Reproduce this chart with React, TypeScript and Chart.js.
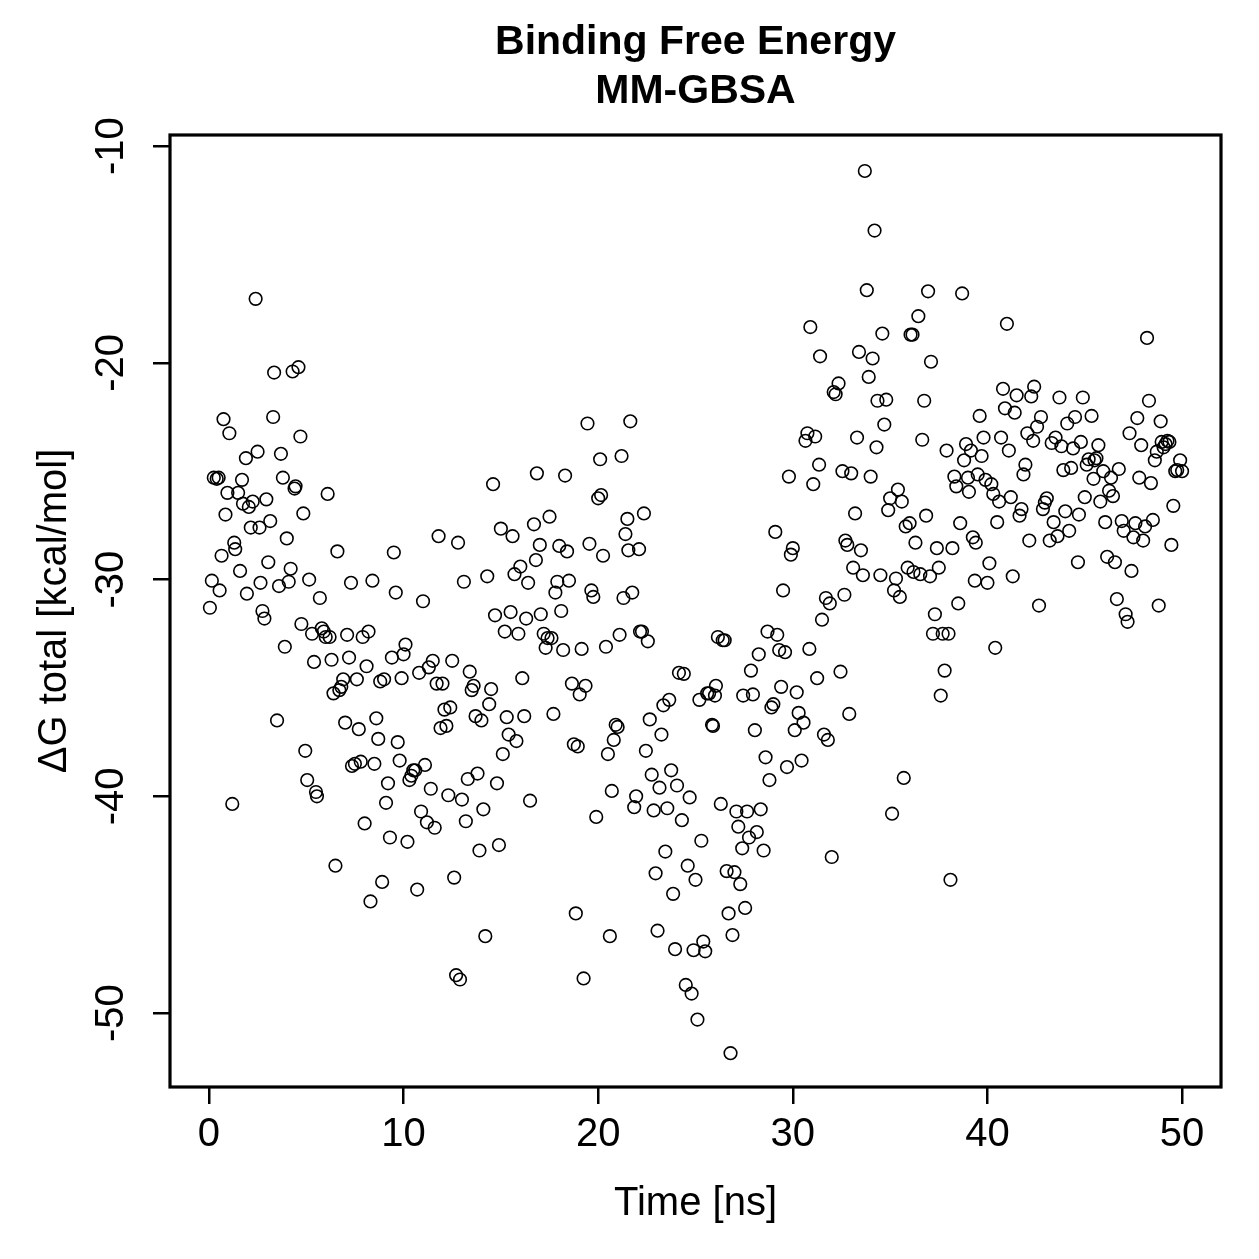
import React, { useEffect, useRef } from "react";
import { Chart, registerables } from "chart.js";

Chart.register(...registerables);

// Time [ns] of each frame
const timeNs = [
  0.05, 0.15, 0.25, 0.4, 0.5, 0.55, 0.65, 0.75, 0.85, 0.95, 1.05, 1.2, 1.3, 1.35, 1.5, 1.6, 1.7, 1.75, 1.9, 1.95,
  2.05, 2.15, 2.25, 2.4, 2.5, 2.6, 2.65, 2.75, 2.85, 2.95, 3.05, 3.15, 3.3, 3.35, 3.5, 3.6, 3.7, 3.8, 3.9, 4.0,
  4.1, 4.2, 4.3, 4.4, 4.45, 4.6, 4.7, 4.75, 4.85, 4.95, 5.05, 5.15, 5.3, 5.4, 5.5, 5.55, 5.7, 5.8, 5.9, 6.0,
  6.1, 6.2, 6.3, 6.4, 6.5, 6.6, 6.7, 6.8, 6.9, 7.0, 7.1, 7.2, 7.3, 7.35, 7.5, 7.6, 7.7, 7.8, 7.9, 8.0,
  8.1, 8.2, 8.3, 8.4, 8.5, 8.6, 8.7, 8.8, 8.9, 9.0, 9.1, 9.2, 9.3, 9.4, 9.5, 9.6, 9.7, 9.8, 9.9, 10.0,
  10.1, 10.2, 10.3, 10.4, 10.5, 10.6, 10.7, 10.8, 10.9, 11.0, 11.1, 11.2, 11.3, 11.4, 11.5, 11.6, 11.7, 11.8, 11.9, 12.0,
  12.1, 12.2, 12.3, 12.4, 12.5, 12.6, 12.7, 12.8, 12.9, 13.0, 13.1, 13.2, 13.3, 13.4, 13.5, 13.6, 13.7, 13.8, 13.9, 14.0,
  14.1, 14.2, 14.3, 14.4, 14.5, 14.6, 14.7, 14.8, 14.9, 15.0, 15.1, 15.2, 15.3, 15.4, 15.5, 15.6, 15.7, 15.8, 15.9, 16.0,
  16.1, 16.2, 16.3, 16.4, 16.5, 16.7, 16.8, 16.85, 17.0, 17.05, 17.2, 17.3, 17.4, 17.5, 17.6, 17.7, 17.8, 17.9, 18.0, 18.1,
  18.2, 18.3, 18.4, 18.5, 18.65, 18.75, 18.85, 18.95, 19.05, 19.15, 19.25, 19.35, 19.45, 19.55, 19.65, 19.75, 19.9, 20.0, 20.1, 20.15,
  20.25, 20.4, 20.5, 20.6, 20.7, 20.8, 20.9, 21.0, 21.1, 21.2, 21.3, 21.4, 21.5, 21.55, 21.65, 21.75, 21.85, 21.95, 22.1, 22.15,
  22.25, 22.35, 22.45, 22.55, 22.65, 22.75, 22.85, 22.95, 23.05, 23.15, 23.25, 23.35, 23.45, 23.55, 23.65, 23.75, 23.85, 23.95, 24.05, 24.15,
  24.3, 24.4, 24.5, 24.6, 24.7, 24.8, 24.9, 25.0, 25.1, 25.2, 25.3, 25.4, 25.5, 25.6, 25.7, 25.85, 25.9, 26.0, 26.05, 26.15,
  26.3, 26.4, 26.5, 26.6, 26.7, 26.8, 26.9, 27.0, 27.1, 27.2, 27.3, 27.4, 27.45, 27.55, 27.65, 27.75, 27.85, 27.95, 28.05, 28.15,
  28.25, 28.35, 28.5, 28.6, 28.7, 28.8, 28.9, 29.0, 29.1, 29.2, 29.3, 29.4, 29.5, 29.6, 29.7, 29.8, 29.9, 30.0, 30.1, 30.2,
  30.3, 30.45, 30.55, 30.65, 30.75, 30.85, 30.9, 31.05, 31.15, 31.25, 31.35, 31.4, 31.5, 31.6, 31.7, 31.8, 31.9, 32.0, 32.1, 32.2,
  32.35, 32.45, 32.55, 32.65, 32.7, 32.8, 32.9, 33.0, 33.1, 33.2, 33.3, 33.4, 33.5, 33.6, 33.7, 33.8, 33.9, 34.0, 34.1, 34.2,
  34.3, 34.35, 34.5, 34.6, 34.7, 34.8, 34.9, 35.0, 35.1, 35.2, 35.3, 35.4, 35.5, 35.6, 35.7, 35.8, 35.9, 36.0, 36.05, 36.15,
  36.2, 36.3, 36.45, 36.55, 36.65, 36.75, 36.85, 36.95, 37.05, 37.1, 37.2, 37.3, 37.4, 37.5, 37.6, 37.7, 37.8, 37.9, 38.0, 38.1,
  38.2, 38.3, 38.4, 38.5, 38.6, 38.7, 38.8, 38.9, 39.0, 39.05, 39.15, 39.25, 39.35, 39.4, 39.5, 39.6, 39.7, 39.8, 39.9, 40.0,
  40.1, 40.2, 40.3, 40.4, 40.5, 40.6, 40.7, 40.8, 40.9, 41.0, 41.1, 41.2, 41.3, 41.4, 41.5, 41.65, 41.75, 41.85, 41.95, 42.05,
  42.15, 42.25, 42.35, 42.4, 42.55, 42.65, 42.75, 42.85, 42.95, 43.05, 43.2, 43.3, 43.4, 43.5, 43.6, 43.7, 43.8, 43.9, 44.0, 44.1,
  44.2, 44.3, 44.4, 44.5, 44.65, 44.7, 44.8, 44.9, 45.0, 45.1, 45.2, 45.35, 45.45, 45.5, 45.6, 45.7, 45.8, 45.95, 46.05, 46.15,
  46.25, 46.35, 46.45, 46.55, 46.65, 46.75, 46.9, 47.0, 47.1, 47.2, 47.3, 47.4, 47.5, 47.6, 47.7, 47.8, 47.9, 48.0, 48.1, 48.2,
  48.3, 48.4, 48.5, 48.6, 48.7, 48.8, 48.9, 48.95, 49.05, 49.15, 49.25, 49.35, 49.45, 49.55, 49.65, 49.75, 49.9, 50.0,
];

// ΔG total [kcal/mol] of each frame
const deltaG = [
  -31.3, -30.05, -25.3, -25.35, -25.3, -30.5, -28.9, -22.6, -27.0, -26.0, -23.25, -40.35, -28.3, -28.6, -26.0, -29.6, -25.4, -26.5, -24.4, -30.65,
  -26.65, -27.6, -26.4, -17.05, -24.1, -27.6, -30.15, -31.45, -31.8, -26.3, -29.2, -27.3, -22.5, -20.45, -36.5, -30.3, -24.2, -25.3, -33.1, -28.1,
  -30.1, -29.5, -20.4, -25.8, -25.7, -20.2, -23.4, -32.05, -26.95, -37.9, -39.25, -30.0, -32.5, -33.8, -39.8, -40.0, -30.85, -32.25, -32.4, -32.65,
  -26.05, -32.65, -33.7, -35.25, -43.2, -28.7, -35.1, -34.95, -34.6, -36.6, -32.55, -33.6, -30.15, -38.6, -38.5, -34.6, -36.9, -38.4, -32.65, -41.25,
  -34.0, -32.4, -44.85, -30.05, -38.5, -36.4, -37.35, -34.7, -43.95, -34.6, -40.3, -39.4, -41.9, -33.6, -28.75, -30.6, -37.5, -38.35, -34.55, -33.45,
  -33.0, -42.1, -39.25, -39.05, -38.8, -38.8, -44.3, -34.3, -40.7, -31.0, -38.55, -41.2, -34.05, -39.65, -33.75, -41.45, -34.8, -28.0, -36.85, -34.8,
  -36.0, -36.75, -39.95, -35.9, -33.75, -43.75, -48.25, -28.3, -48.45, -40.15, -30.1, -41.15, -39.2, -34.25, -35.1, -34.9, -36.3, -38.95, -42.5, -36.5,
  -40.6, -46.45, -29.85, -35.75, -35.05, -25.6, -31.65, -39.4, -42.25, -27.65, -38.05, -32.4, -36.35, -37.15, -31.5, -28.0, -29.75, -37.45, -32.5, -29.4,
  -34.55, -36.3, -31.8, -30.15, -40.2, -27.45, -29.1, -25.1, -28.4, -31.6, -32.5, -33.15, -32.7, -27.1, -32.7, -36.2, -30.6, -30.1, -28.45, -31.45,
  -33.25, -25.2, -28.7, -30.05, -34.8, -37.6, -45.4, -37.7, -35.3, -33.2, -48.4, -34.9, -22.8, -28.35, -30.5, -30.8, -40.95, -26.25, -24.45, -26.1,
  -28.9, -33.1, -38.05, -46.45, -39.75, -37.4, -36.7, -36.8, -32.55, -24.3, -30.85, -27.9, -27.2, -28.65, -22.7, -30.6, -40.5, -40.0, -28.6, -32.4,
  -32.4, -26.95, -37.9, -32.85, -36.45, -39.0, -40.65, -43.55, -46.2, -39.6, -37.15, -35.8, -42.55, -40.55, -35.55, -38.8, -44.5, -47.05, -39.5, -34.3,
  -41.1, -34.35, -48.7, -43.2, -40.05, -49.1, -47.1, -43.85, -50.3, -35.55, -42.05, -46.7, -47.15, -35.25, -35.25, -36.7, -36.75, -35.35, -34.9, -32.65,
  -40.35, -32.8, -32.8, -43.45, -45.4, -51.85, -46.4, -43.5, -40.7, -41.4, -44.05, -42.4, -35.35, -45.15, -40.7, -41.9, -34.2, -35.3, -36.95, -41.65,
  -33.45, -40.6, -42.5, -38.2, -32.4, -39.25, -35.9, -35.75, -27.8, -32.55, -33.25, -34.95, -30.5, -33.35, -38.65, -25.25, -28.85, -28.55, -36.95, -35.2,
  -36.15, -38.35, -36.6, -23.6, -23.25, -33.2, -18.35, -25.6, -23.4, -34.55, -24.7, -19.7, -31.85, -37.15, -30.85, -37.4, -31.1, -42.8, -21.35, -21.45,
  -20.95, -34.25, -25.0, -30.7, -28.2, -28.4, -36.2, -25.1, -29.45, -26.95, -23.45, -19.5, -28.65, -29.8, -11.15, -16.65, -20.65, -25.25, -19.8, -13.9,
  -23.9, -21.75, -29.8, -18.65, -22.85, -21.7, -26.8, -26.25, -40.8, -30.5, -29.95, -25.85, -30.8, -26.4, -39.15, -27.55, -29.45, -27.4, -18.7, -18.7,
  -29.65, -28.3, -17.85, -29.75, -23.55, -21.75, -27.05, -16.7, -29.85, -19.95, -32.5, -31.6, -28.55, -29.45, -35.35, -32.5, -34.2, -24.05, -32.5, -43.85,
  -28.55, -25.25, -25.7, -31.1, -27.4, -16.8, -24.5, -23.75, -25.3, -25.95, -24.05, -28.05, -30.05, -28.3, -25.15, -22.45, -24.3, -23.45, -25.4, -30.15,
  -29.25, -25.6, -26.05, -33.15, -27.35, -26.4, -23.45, -21.2, -22.1, -18.2, -24.05, -26.2, -29.85, -22.3, -21.5, -27.05, -26.75, -25.15, -24.7, -23.25,
  -28.2, -21.55, -23.6, -21.1, -22.95, -31.2, -22.5, -26.75, -26.45, -26.25, -28.2, -23.7, -27.35, -23.45, -28.0, -21.6, -23.85, -24.95, -26.85, -22.8,
  -27.75, -24.85, -23.95, -22.5, -29.2, -27.0, -23.65, -21.6, -26.2, -24.7, -24.45, -22.45, -25.35, -24.5, -24.4, -23.8, -26.4, -25.0, -27.35, -28.95,
  -25.9, -25.3, -26.15, -29.2, -30.9, -24.9, -27.3, -27.75, -31.6, -31.95, -23.25, -29.6, -28.05, -27.4, -22.55, -25.3, -23.8, -28.2, -27.55, -18.85,
  -21.75, -25.55, -27.25, -24.5, -24.1, -31.2, -22.7, -23.65, -23.9, -23.75, -23.6, -23.65, -28.4, -26.6, -25.0, -24.95, -24.5, -25.0,
];

const xTicks = [0, 10, 20, 30, 40, 50];
const yTicks = [-10, -20, -30, -40, -50];
const titleLines = ["Binding Free Energy", "MM-GBSA"];
const xLabel = "Time [ns]";
const yLabel = "\u0394G total [kcal/mol]";

const FONT = '"Liberation Sans", Arial, Helvetica, sans-serif';

export default function App() {
  const ref = useRef<HTMLCanvasElement | null>(null);

  useEffect(() => {
    const canvas = ref.current;
    if (!canvas) return;
    const points = timeNs.map((x, i) => ({ x, y: deltaG[i] }));

    const framePlugin = {
      id: "rframe",
      afterDatasetsDraw(chart: any) {
        const { ctx, chartArea: a } = chart;
        ctx.save();
        ctx.strokeStyle = "#000";
        ctx.lineWidth = 3.2;
        ctx.strokeRect(a.left, a.top, a.right - a.left, a.bottom - a.top);
        ctx.restore();
      },
      afterDraw(chart: any) {
        const { ctx, chartArea: a } = chart;
        const cx = (a.left + a.right) / 2;
        ctx.save();
        ctx.fillStyle = "#000";
        ctx.font = `bold 41px ${FONT}`;
        ctx.textAlign = "center";
        ctx.textBaseline = "alphabetic";
        ctx.fillText(titleLines[0], cx, 54);
        ctx.fillText(titleLines[1], cx, 103);
        ctx.restore();
      },
    };

    const chart = new Chart(canvas, {
      type: "scatter",
      data: {
        datasets: [
          {
            data: points,
            pointStyle: "circle",
            pointRadius: 6.3,
            pointHoverRadius: 6.3,
            pointBorderWidth: 1.6,
            borderColor: "#000",
            backgroundColor: "rgba(0,0,0,0)",
            pointBackgroundColor: "rgba(0,0,0,0)",
            pointBorderColor: "#000",
          },
        ],
      },
      options: {
        responsive: false,
        devicePixelRatio: 1,
        animation: false,
        events: [],
        layout: { padding: { top: 135, right: 38, left: 0, bottom: 0 } },
        plugins: {
          legend: { display: false },
          tooltip: { enabled: false },
          title: { display: false },
        },
        scales: {
          x: {
            type: "linear",
            min: -2,
            max: 52,
            afterBuildTicks: (s: any) => {
              s.ticks = xTicks.map((v) => ({ value: v }));
            },
            afterFit: (s: any) => {
              s.height = 172;
            },
            border: { display: false },
            grid: {
              drawOnChartArea: false,
              drawTicks: true,
              tickLength: 17,
              color: "#000",
              lineWidth: 2.5,
            },
            ticks: {
              color: "#000",
              font: { size: 40, family: FONT },
              padding: 7,
              minRotation: 0,
              maxRotation: 0,
              autoSkip: false,
            },
            title: {
              display: true,
              text: xLabel,
              color: "#000",
              font: { size: 40, family: FONT },
              padding: { top: 0, bottom: 31 },
            },
          },
          y: {
            type: "linear",
            min: -53.41,
            max: -9.49,
            afterBuildTicks: (s: any) => {
              s.ticks = yTicks.map((v) => ({ value: v }));
            },
            afterFit: (s: any) => {
              s.width = 170;
            },
            border: { display: false },
            grid: {
              drawOnChartArea: false,
              drawTicks: true,
              tickLength: 17,
              color: "#000",
              lineWidth: 2.5,
            },
            ticks: {
              color: "#000",
              font: { size: 40, family: FONT },
              padding: 12,
              minRotation: 90,
              maxRotation: 90,
              crossAlign: "center",
              autoSkip: false,
            },
            title: {
              display: true,
              text: yLabel,
              color: "#000",
              font: { size: 40, family: FONT },
              padding: { top: 31, bottom: 0 },
            },
          },
        },
      },
      plugins: [framePlugin],
    } as any);

    return () => chart.destroy();
  }, []);

  return (
    <div
      style={{
        position: "fixed",
        left: 0,
        top: 0,
        width: 1259,
        height: 1259,
        background: "#fff",
      }}
    >
      <canvas
        ref={ref}
        width={1259}
        height={1259}
        style={{ display: "block", width: 1259, height: 1259 }}
      />
    </div>
  );
}
